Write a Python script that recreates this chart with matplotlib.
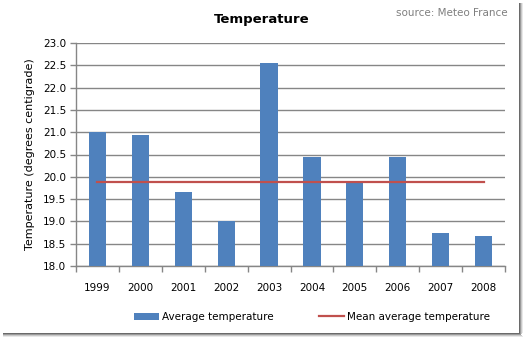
import numpy as np
import matplotlib.pyplot as plt
from matplotlib.patches import Rectangle

years = ['1999', '2000', '2001', '2002', '2003', '2004', '2005', '2006', '2007', '2008']
avg_temp = [21.0, 20.94, 19.65, 19.0, 22.56, 20.45, 19.9, 20.45, 18.75, 18.68]
mean_temp = [19.89] * len(years)
y_ticks = [18.0, 18.5, 19.0, 19.5, 20.0, 20.5, 21.0, 21.5, 22.0, 22.5, 23.0]

W, H = 525, 340
fig = plt.figure(figsize=(5.25, 3.4), dpi=100)
ax = fig.add_axes([76 / W, 1 - 266 / H, (505 - 76) / W, (266 - 43) / H])

grid_col = '#868686'
x = np.arange(len(years))
bars = ax.bar(x, avg_temp, width=0.4, color='#4F81BD', zorder=3,
              label='Average temperature')
line, = ax.plot(x, mean_temp, color='#C0504D', lw=1.6, zorder=4,
                label='Mean average temperature')

ax.set_ylim(18.0, 23.0)
ax.set_xlim(-0.5, len(years) - 0.5)
ax.set_yticks(y_ticks)
ax.set_yticklabels(['%.1f' % v for v in y_ticks], fontsize=7.5)
ax.yaxis.grid(True, color=grid_col, lw=1.0, zorder=0)
ax.set_axisbelow(True)

ax.set_xticks(x)
ax.set_xticklabels(years, fontsize=7.5)
ax.set_xticks(np.arange(-0.5, len(years)), minor=True)
ax.tick_params(axis='x', which='major', length=0, pad=12)
ax.tick_params(axis='x', which='minor', length=4, color=grid_col, width=1)
ax.tick_params(axis='y', length=4, color=grid_col, width=1, pad=3)

for s in ['top', 'right']:
    ax.spines[s].set_visible(False)
for s in ['left', 'bottom']:
    ax.spines[s].set_color(grid_col)
    ax.spines[s].set_linewidth(1.0)

ax.set_ylabel('Temperature (degrees centigrade)', fontsize=8, labelpad=6)

fig.text(262 / W, 1 - 19 / H, 'Temperature', ha='center', va='center',
         fontsize=9.5, fontweight='bold')
fig.text(508 / W, 1 - 13 / H, 'source: Meteo France', ha='right', va='center',
         fontsize=7.5, color='#7F7F7F')

fig.legend([bars, line], ['Average temperature', 'Mean average temperature'],
           loc='center', bbox_to_anchor=(312 / W, 1 - 317 / H), ncol=2,
           frameon=False, fontsize=7.5, handlelength=2.4,
           columnspacing=4.3, handletextpad=0.3)

# thin frame shadow on right and bottom
shades = ['#6A6A6A', '#9A9A9A', '#C8C8C8', '#E8E8E8']
for i, c in enumerate(shades):
    fig.patches.append(Rectangle(((519 + i) / W, (340 - 336 + i) / H), 1 / W, (333 - i) / H,
                                 transform=fig.transFigure, color=c, lw=0, zorder=0))
    fig.patches.append(Rectangle((3 / W, (340 - 334 - i) / H), (517 + i) / W, 1 / H,
                                 transform=fig.transFigure, color=c, lw=0, zorder=0))

fig.savefig('out.png', dpi=100)
